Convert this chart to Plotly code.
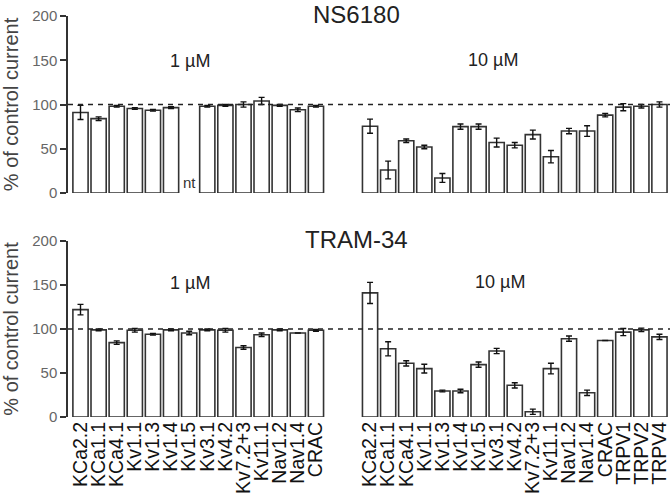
import plotly.graph_objects as go

# ---------------- data ----------------
cats_1uM = ["KCa2.2", "KCa1.1", "KCa4.1", "Kv1.1", "Kv1.3", "Kv1.4", "Kv1.5",
            "Kv3.1", "Kv4.2", "Kv7.2+3", "Kv11.1", "Nav1.2", "Nav1.4", "CRAC"]
cats_10uM = ["KCa2.2", "KCa1.1", "KCa4.1", "Kv1.1", "Kv1.3", "Kv1.4", "Kv1.5",
             "Kv3.1", "Kv4.2", "Kv7.2+3", "Kv11.1", "Nav1.2", "Nav1.4", "CRAC",
             "TRPV1", "TRPV2", "TRPV4"]

# NS6180 (Kv1.5 at 1 µM not tested -> None)
ns_1uM = [91, 84, 98, 95.5, 93.5, 96.5, None, 98, 99, 100, 104, 99, 94, 98]
ns_1uM_err = [8, 2, 1, 1, 1, 1, 0, 1, 1, 3, 4, 1, 2, 1]
ns_10uM = [75.5, 26, 59, 52, 17, 75, 75, 57, 54, 66, 41, 70, 70, 88, 97, 98, 100]
ns_10uM_err = [8, 10, 2, 2, 5, 3, 3, 5, 3, 5, 7, 3, 6, 2, 4, 2, 3]

# TRAM-34
tr_1uM = [122, 99, 84.5, 98.5, 94, 99, 95.5, 99, 98.5, 79, 93.5, 99, 95.5, 98.5]
tr_1uM_err = [6, 1, 2, 2, 1, 1, 2, 1, 2, 2, 2, 1, 0, 1]
tr_10uM = [141, 77.5, 61, 55, 29.5, 29.5, 59.5, 75, 36, 6, 55, 89, 27.5, 87, 96.5, 99, 91]
tr_10uM_err = [12, 8, 3, 5, 1, 2, 3, 3, 3, 3, 6, 3, 3, 0, 4, 2, 3]

y_ticks = [0, 50, 100, 150, 200]
control_level = 100

# ---------------- styling ----------------
W, H = 670, 498
BAR_LINE = "#333333"
FONT = "Liberation Sans, Arial, sans-serif"


def px_x(p):
    return p / W


def px_y(p):
    return 1 - p / H


def bars(x, y, err, xa, ya, width):
    return go.Bar(
        x=x, y=y, xaxis=xa, yaxis=ya, width=width,
        marker=dict(color="white", line=dict(color=BAR_LINE, width=1.6)),
        error_y=dict(type="data", array=err, color="#111111", thickness=1.4, width=3),
        showlegend=False, hoverinfo="x+y",
    )


fig = go.Figure()
fig.add_trace(bars(cats_1uM, ns_1uM, ns_1uM_err, "x", "y", 0.84))
fig.add_trace(bars(cats_10uM, ns_10uM, ns_10uM_err, "x2", "y", 0.84))
fig.add_trace(bars(cats_1uM, tr_1uM, tr_1uM_err, "x3", "y2", 0.84))
fig.add_trace(bars(cats_10uM, tr_10uM, tr_10uM_err, "x4", "y2", 0.84))

left_dom = [px_x(68), px_x(325)]
right_dom = [px_x(361), px_x(668.5)]
top_dom = [px_y(193), px_y(16)]
bot_dom = [px_y(417), px_y(241)]

xcommon = dict(type="category", showline=False, showgrid=False, zeroline=False,
               ticks="", automargin=False, fixedrange=True)
yaxis_common = dict(
    range=[0, 200], tickvals=y_ticks, ticks="outside", ticklen=6, tickwidth=1.5,
    tickcolor=BAR_LINE, showline=True, linecolor=BAR_LINE, linewidth=1.5,
    showgrid=False, zeroline=False, automargin=False, fixedrange=True,
    tickfont=dict(family=FONT, size=15, color="#666666"),
    title=dict(text="% of control current", standoff=10,
               font=dict(family=FONT, size=20, color="#444444")),
)
label_font = dict(family=FONT, size=19.5, color="#111111")

fig.update_layout(
    width=W, height=H,
    margin=dict(l=0, r=0, t=0, b=0),
    paper_bgcolor="white", plot_bgcolor="white",
    template="none",
    xaxis=dict(xcommon, domain=left_dom, anchor="y", range=[-0.69, 13.5],
               showticklabels=False),
    xaxis2=dict(xcommon, domain=right_dom, anchor="y", range=[-0.5, 16.5],
                showticklabels=False),
    xaxis3=dict(xcommon, domain=left_dom, anchor="y2", range=[-0.69, 13.5],
                tickangle=-90, tickfont=label_font, tickmode="array",
                tickvals=cats_1uM, ticktext=cats_1uM),
    xaxis4=dict(xcommon, domain=right_dom, anchor="y2", range=[-0.5, 16.5],
                tickangle=-90, tickfont=label_font, tickmode="array",
                tickvals=cats_10uM, ticktext=cats_10uM),
    yaxis=dict(yaxis_common, domain=top_dom, anchor="x"),
    yaxis2=dict(yaxis_common, domain=bot_dom, anchor="x3"),
)

# dashed control line at 100 %
for yref in ["y", "y2"]:
    fig.add_shape(type="line", xref="paper", yref=yref,
                  x0=left_dom[0], x1=1.0, y0=control_level, y1=control_level,
                  line=dict(color="#222222", width=1.3, dash="5px,5px"))

ann_font_big = dict(family=FONT, size=24, color="#222222")
ann_font = dict(family=FONT, size=18, color="#222222")
annotations = [
    ("NS6180", 356, 14, ann_font_big),
    ("1 µM", 190, 61, ann_font),
    ("10 µM", 493, 60, ann_font),
    ("TRAM-34", 356, 239, ann_font_big),
    ("1 µM", 190, 283, ann_font),
    ("10 µM", 500, 282, ann_font),
]
for text, xp, yp, f in annotations:
    fig.add_annotation(text=text, xref="paper", yref="paper", x=px_x(xp), y=px_y(yp),
                       xanchor="center", yanchor="middle", showarrow=False, font=f)

# "nt" = not tested
fig.add_annotation(text="nt", xref="x", yref="y", x="Kv1.5", y=0, yanchor="bottom",
                   showarrow=False, font=dict(family=FONT, size=15, color="#333333"))

fig.write_html("out.html", config={"displayModeBar": False},
               post_script="document.body.style.margin='0';document.body.style.overflow='hidden';")
